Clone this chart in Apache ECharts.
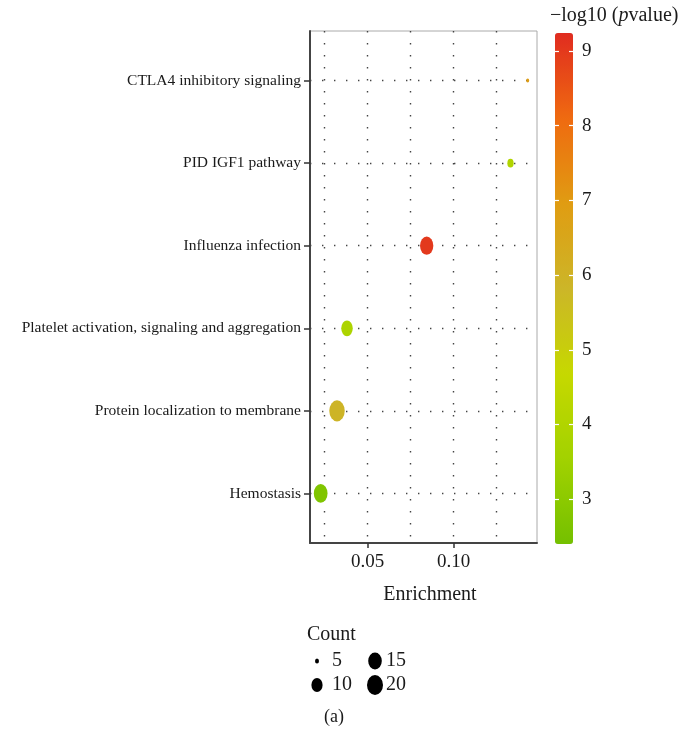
<!DOCTYPE html>
<html>
<head>
<meta charset="utf-8">
<script src="https://cdn.jsdelivr.net/npm/echarts@6/dist/echarts.min.js"></script>
<style>
html,body{margin:0;padding:0;background:#fff;}
#c{width:696px;height:739px;}
</style>
</head>
<body>
<div id="c"></div>
<script>
// Categories, top to bottom
const categories = [
  'CTLA4 inhibitory signaling',
  'PID IGF1 pathway',
  'Influenza infection',
  'Platelet activation, signaling and aggregation',
  'Protein localization to membrane',
  'Hemostasis'
];
const enrichment = [0.143, 0.133, 0.0843, 0.038, 0.0322, 0.0227];
const negLogP   = [6.9, 4.0, 9.0, 3.9, 5.9, 2.7];
const counts    = [4, 7, 17, 13, 22, 18];

const xTickLabels = [0.05, 0.10];
const xGridValues = [0.025, 0.05, 0.075, 0.10, 0.125];
const colorTicks  = [3, 4, 5, 6, 7, 8, 9];
const legendCounts = [5, 10, 15, 20];

const FONT = '"Liberation Serif", "DejaVu Serif", serif';
const TXT = '#1a1a1a';
const xMin = 0.0165, xMax = 0.1484;
const pMin = 2.4, pMax = 9.24;
const n = categories.length;

// symbol height (px) as a function of count
function heightOf(c) {
  if (c <= 5) return Math.max(3, 5 - (5 - c) * 1);
  if (c <= 10) return 5 + (c - 5) * 1.8;
  return 14 + (c - 10) * 0.6;
}
function sizeOf(c, ratio) {
  const h = heightOf(c);
  return [h * ratio, h];
}

const mainData = categories.map((name, i) => [enrichment[i], n - i, negLogP[i], counts[i], name]);

const legendData = legendCounts.map((c, i) => {
  const col = Math.floor(i / 2), row = i % 2;
  return {
    value: [col, row, c],
    label: { offset: [col === 0 ? 15 : 11, 0] }
  };
});

const chart = echarts.init(document.getElementById('c'), null, { renderer: 'canvas' });

const dotted = { color: '#444', width: 1.4, type: [1.4, 10.6] };

chart.setOption({
  animation: false,
  backgroundColor: '#fff',
  textStyle: { fontFamily: FONT },
  grid: [
    { left: 310, top: 31, width: 227, height: 512, show: true, borderColor: '#aaa', borderWidth: 1, backgroundColor: 'transparent' },
    { left: 288, top: 649, width: 116, height: 48 },
    { left: 555, top: 33, width: 18, height: 511 }
  ],
  xAxis: [
    {
      gridIndex: 0, type: 'value', min: xMin, max: xMax,
      axisLine: { show: true, lineStyle: { color: '#444', width: 2 } },
      axisTick: { show: true, length: 5, customValues: xTickLabels, lineStyle: { color: '#333', width: 1.5 } },
      axisLabel: { customValues: xTickLabels, formatter: v => v.toFixed(2), fontFamily: FONT, fontSize: 19, color: TXT, margin: 10 },
      splitLine: { show: false },
      name: 'Enrichment', nameLocation: 'middle', nameGap: 42,
      nameTextStyle: { fontFamily: FONT, fontSize: 20, color: TXT, padding: [0, 0, 0, 13] }
    },
    {
      gridIndex: 0, type: 'value', min: xMin, max: xMax, position: 'bottom',
      axisLine: { show: false }, axisLabel: { show: false },
      axisTick: { show: false, customValues: xGridValues },
      splitLine: { show: true, lineStyle: dotted }
    },
    { gridIndex: 1, type: 'value', min: -0.5, max: 1.5, show: false },
    { gridIndex: 2, type: 'value', min: 0, max: 1, show: false }
  ],
  yAxis: [
    {
      gridIndex: 0, type: 'value', min: 0.4, max: n + 0.6,
      axisLine: { show: true, lineStyle: { color: '#444', width: 2 } },
      axisTick: { show: true, length: 6, customValues: [1, 2, 3, 4, 5, 6], lineStyle: { color: '#333', width: 1.5 } },
      axisLabel: { customValues: [1, 2, 3, 4, 5, 6], formatter: v => categories[n - Math.round(v)], fontFamily: FONT, fontSize: 15.5, color: TXT, margin: 9 },
      splitLine: { show: true, lineStyle: dotted }
    },
    { gridIndex: 1, type: 'value', min: -0.5, max: 1.5, inverse: true, show: false },
    {
      gridIndex: 2, type: 'value', min: pMin, max: pMax, position: 'left', z: 20,
      axisLine: { show: false }, axisLabel: { show: false },
      axisTick: { show: true, inside: true, length: 4, customValues: colorTicks, lineStyle: { color: '#fff', width: 1.2 } },
      splitLine: { show: false }
    },
    {
      gridIndex: 2, type: 'value', min: pMin, max: pMax, position: 'right', z: 20,
      axisLine: { show: false },
      axisLabel: { customValues: colorTicks, fontFamily: FONT, fontSize: 19, color: TXT, margin: 9 },
      axisTick: { show: true, inside: true, length: 4, customValues: colorTicks, lineStyle: { color: '#fff', width: 1.2 } },
      splitLine: { show: false }
    }
  ],
  visualMap: [{
    type: 'continuous', seriesIndex: 0, dimension: 2, min: pMin, max: pMax,
    calculable: false, show: true, left: 555, top: 33, itemWidth: 18, itemHeight: 511,
    padding: 0, text: null, showLabel: false, z: 2,
    inRange: { color: ['#74c000', '#a2d200', '#c6d800', '#ccb628', '#e09c12', '#ef6a10', '#e02c20'] }
  }],
  series: [
    {
      type: 'scatter', xAxisIndex: 0, yAxisIndex: 0,
      data: mainData,
      symbol: 'circle',
      symbolSize: v => sizeOf(v[3], 0.73),
      itemStyle: { opacity: 1 },
      z: 5
    },
    {
      type: 'scatter', xAxisIndex: 2, yAxisIndex: 1,
      data: legendData,
      symbol: 'circle',
      symbolSize: v => sizeOf(v[2], 0.8),
      itemStyle: { color: '#000', opacity: 1 },
      label: { show: true, position: 'inside', align: 'left', formatter: p => String(p.value[2]), fontFamily: FONT, fontSize: 20, color: TXT, textBorderWidth: 0 }
    }
  ],
  graphic: [
    { type: 'text', left: 550, top: 6, style: { text: '−log10 ({i|p}value)', rich: { i: { fontStyle: 'italic', fontFamily: FONT, fontSize: 20, fill: TXT } }, fontFamily: FONT, fontSize: 20, fill: TXT } },
    { type: 'text', left: 307, top: 625, style: { text: 'Count', fontFamily: FONT, fontSize: 20, fill: TXT } },
    { type: 'text', left: 324, top: 708, style: { text: '(a)', fontFamily: FONT, fontSize: 18, fill: TXT } }
  ]
});
</script>
</body>
</html>
